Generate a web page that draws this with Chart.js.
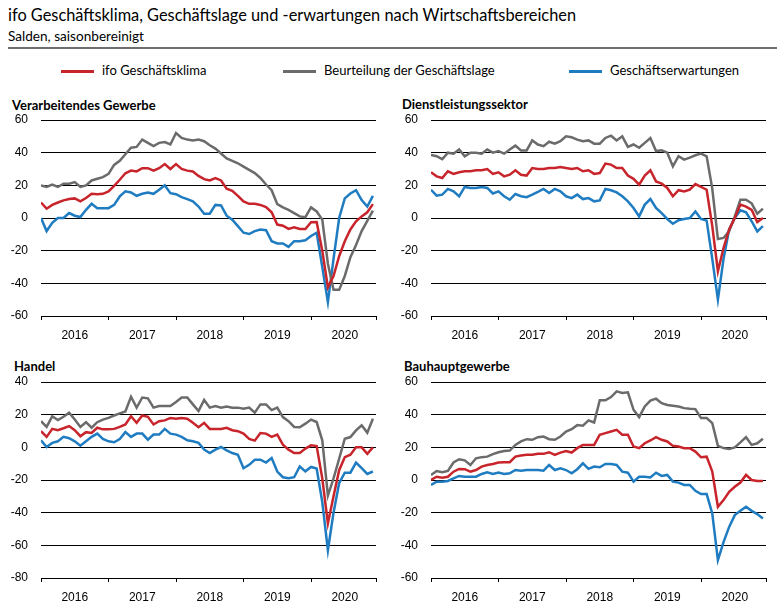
<!DOCTYPE html>
<html>
<head>
<meta charset="utf-8">
<script src="https://cdn.jsdelivr.net/npm/chart.js@4.4.1/dist/chart.umd.min.js"></script>
<style>
  body { margin: 0; width: 777px; height: 615px; background: #fff; position: relative; overflow: hidden; font-family: Lato, sans-serif; color: #000; }
  .abs { position: absolute; white-space: nowrap; }
  #title { left: 8px; top: 5px; font-size: 16.35px; }
  #subtitle { left: 8px; top: 28px; font-size: 13.6px; }
  #rule { left: 8px; top: 47px; width: 769px; height: 2px; background: #6e6e6e; }
  .leg { top: 62px; font-size: 13px; }
  .sw { height: 3px; top: 70px; }
  .ptitle { font-weight: bold; font-size: 13px; }
  canvas { position: absolute; }
</style>
</head>
<body>
<div id="title" class="abs">ifo Geschäftsklima, Geschäftslage und -erwartungen nach Wirtschaftsbereichen</div>
<div id="subtitle" class="abs">Salden, saisonbereinigt</div>
<div id="rule" class="abs"></div>

<div class="abs sw" style="left:61px;width:33px;background:#c8242b"></div>
<div class="abs leg" style="left:102px">ifo Geschäftsklima</div>
<div class="abs sw" style="left:283px;width:33px;background:#6b6b6b"></div>
<div class="abs leg" style="left:324px">Beurteilung der Geschäftslage</div>
<div class="abs sw" style="left:569px;width:33px;background:#1f7cc1"></div>
<div class="abs leg" style="left:610px">Geschäftserwartungen</div>

<div class="abs ptitle" style="left:12px;top:97px">Verarbeitendes Gewerbe</div>
<div class="abs ptitle" style="left:402px;top:96px">Dienstleistungssektor</div>
<div class="abs ptitle" style="left:14px;top:358px">Handel</div>
<div class="abs ptitle" style="left:404px;top:358px">Bauhauptgewerbe</div>

<canvas id="c1"></canvas>
<canvas id="c2"></canvas>
<canvas id="c3"></canvas>
<canvas id="c4"></canvas>

<script>
// monthly values Jan 2016 .. Dec 2020 (60 points each)
const yearLabels = ['2016', '2017', '2018', '2019', '2020'];
const yearBounds = [0, 12, 24, 36, 48, 59.55];
const yearCenters = [6, 18, 30, 42, 54];

const manuClimate = [9.5, 5.7, 8, 9.5, 10.8, 11.6, 12, 10.2, 12.2, 14.8, 14.6, 14.8, 16.3,
  19.7, 23.4, 27.4, 29, 28.5, 30.5, 30.5, 29, 30.5, 33, 30, 33,
  30, 29, 28.5, 25.8, 23.8, 23, 24.4, 23, 18, 16.7, 13.6, 10.2,
  8.7, 8.7, 8, 6.7, 3.5, -4, -4.7, -6.7, -5.7, -6.7, -6.7, -2.6,
  -2.5, -20, -42.5, -35.5, -23.4, -14.2, -7, -2, 1, 3.5, 8.5];
const manuSituation = [20, 19, 20.5, 19, 21, 21, 22, 19, 20, 23, 24, 25, 27,
  32.5, 35, 39, 43, 43.5, 48, 46, 44, 46, 46.5, 45, 52,
  49, 48, 47.5, 48, 47, 44.5, 42.5, 39.5, 36.5, 35, 33.5, 31.5,
  29.5, 27.5, 24.5, 20.5, 17, 8.5, 6.5, 5, 3, 1, 0.5, 6.5,
  4, -1, -28, -44, -44, -35.5, -24, -16.5, -8, -1.8, 4.5];
const manuExpect = [0, -8, -3, 0, 0, 3, 1.4, 0.6, 5, 8.7, 6, 6, 6,
  8, 13.2, 16.3, 15.6, 13.6, 14.8, 15.6, 14.8, 17.3, 20, 15.2, 14.6,
  12.8, 11.6, 10.2, 7, 2.6, 2.6, 8, 7.7, 1.4, -1, -5, -9,
  -9.8, -8, -7, -7.5, -14.2, -15.6, -15.6, -17.7, -14.2, -14.2, -13.6, -11,
  -9, -30, -51.5, -25, 0, 12, 15, 17, 11, 7, 13.5];

const servClimate = [28, 25.5, 24.5, 28.6, 27, 28, 28.6, 28.6, 29.2, 29.2, 30, 27, 28,
  25.5, 26.5, 29.2, 26.5, 26, 30.6, 30, 30, 30.6, 30.6, 31.2, 30.6,
  30, 30.6, 28.6, 29.2, 27, 27.5, 33.3, 32.7, 30.6, 30.6, 26, 24,
  20.4, 26, 29.2, 22.4, 21, 18.4, 13.3, 17, 16.3, 17.3, 20.8, 19,
  17.3, -5, -32.6, -18.4, -7, 0, 8.2, 7, 5, -2.5, 0];
const servSituation = [38.6, 37.8, 36, 40, 39.4, 42, 37.8, 40, 40, 39.4, 42, 40, 41,
  39.4, 42, 44.3, 41.4, 41.4, 47.5, 45, 44, 46.7, 45.5, 47, 50,
  49.4, 48, 47, 47.5, 45.5, 45.5, 49, 50.4, 47.5, 50, 43.5, 45,
  43, 46, 49, 41, 41.4, 40, 31.6, 37.8, 35.7, 37, 38.4, 39.4,
  37.8, 18, -12.9, -12.2, -8, 1, 11.2, 11.2, 9, 2.6, 5.7];
const servExpect = [17.3, 13.7, 14.3, 17.8, 16.3, 13.3, 19, 18.4, 18.4, 19, 18.4, 15, 16.3,
  13.3, 11.2, 14.7, 13.3, 12.7, 14.3, 16, 17.8, 15.3, 17.8, 16.3, 13.3,
  12.2, 14.3, 11.6, 12.2, 10.2, 10.8, 17.8, 17, 15.7, 13.3, 10.2, 6.1,
  1, 8.2, 11.6, 6.1, 3, -0.6, -3.5, -1.4, -0.6, 0, 4, -0.6,
  -1.6, -25, -50, -25, -7, 0, 4.7, 3.5, -2, -8.2, -5];

const tradeClimate = [9.9, 6.4, 11.3, 10.5, 11.7, 13, 10.5, 6.8, 9.3, 8.8, 12, 11, 11,
  11.3, 12.5, 14, 19, 15, 19.5, 18.7, 14, 16, 16.5, 18, 17.5,
  18, 17.5, 15, 12.3, 15, 11.3, 11.3, 11.3, 12, 10.5, 9.9, 8.4,
  5.1, 4.1, 8.8, 8.4, 6.4, 7.8, 1.6, -1.4, -3.5, -3.5, -0.8, 1.2,
  0.8, -19, -46.5, -30, -14, -6, -4.5, 0, 0, -4, 0];
const tradeSituation = [16, 12.5, 19, 16.7, 18.7, 21.2, 17, 12.5, 15.4, 12, 15.4, 17, 18,
  19.5, 20.8, 22, 31, 24.3, 30.5, 30, 24.3, 25.3, 25.3, 25.3, 27.8,
  30.5, 30.5, 26.3, 22.2, 29, 24.3, 25.3, 24.3, 25, 24.3, 24.3, 23.7,
  24.3, 21.2, 26.3, 26.3, 22.8, 24.3, 18.5, 16, 12.5, 12.3, 14.5, 17,
  15.5, 4.3, -29.5, -19, -7, 5.3, 6.3, 10.4, 13.5, 9, 17.5];
const tradeExpect = [4.3, 0.2, 2.7, 3.7, 6.4, 5.6, 3.7, 1, 3.7, 6.4, 8.4, 5.1, 3.7,
  3.1, 5.1, 9.3, 6.4, 8.4, 8.4, 4.7, 7.8, 7.8, 11.3, 8.4, 7.8,
  6.4, 4.3, 3.7, 2.7, -1.4, -3.5, -1.4, 0.2, -1.9, -3.5, -4.5, -12.8,
  -10.7, -7.6, -7.6, -9.3, -6.6, -14.8, -18.3, -18.9, -18.3, -11.7, -14.7, -12,
  -13, -33.5, -63, -40, -22, -15.5, -15.5, -9.3, -12.8, -16.3, -14.8];

const constClimate = [0, 2, 1.4, 2, 5.1, 6.8, 6.6, 5.1, 6.1, 8.2, 9.2, 9.8, 10.7,
  10.9, 10.9, 14.3, 15, 15.4, 15.4, 16, 16, 17, 15.4, 16.8, 17.8,
  16.8, 19.5, 21.5, 21.5, 21.5, 27.7, 28.7, 29.7, 30.7, 27.7, 27.7, 20.5,
  19.5, 22.5, 24.2, 26.2, 24.6, 23.6, 20.9, 20.5, 19.5, 19.5, 17.4, 13.9,
  14.3, 5.1, -16.4, -12.3, -7.2, -4.1, -1.6, 3.1, 0, -0.6, -0.6];
const constSituation = [3, 5.5, 4.7, 5.5, 10.7, 12.7, 12, 9.2, 13.3, 14, 14.3, 15.8, 17,
  17.8, 18, 21.5, 23.6, 25, 24.6, 26.2, 26.6, 25, 24.6, 26.6, 29.7,
  31.1, 33.6, 33.2, 36.5, 35.2, 48.8, 48.8, 50.8, 54.3, 53.3, 53.7, 43,
  38.5, 45, 48.6, 49.8, 47, 45.9, 45.5, 45, 44, 43.6, 43.4, 37.9,
  37.9, 34.8, 20.9, 19.5, 19, 20, 23, 26.2, 21.5, 22.5, 25.2];
const constExpect = [-3, -1, -1, -0.6, 1, 2.5, 2, 2, 2, 3.7, 4.7, 3.7, 4.5,
  3.7, 4.1, 6.1, 5.7, 6.1, 6.1, 6.1, 5.7, 9.2, 6.1, 7.2, 6.1,
  4.1, 6.6, 10.2, 6.8, 8.2, 7.8, 9.8, 9.8, 9.2, 5.1, 4.5, -1,
  2, 2, 1.6, 4.5, 2.5, 3.1, -1, -1.6, -3, -3, -6.6, -8.6,
  -8.6, -20.5, -49, -38, -28.7, -21.5, -18.9, -16.4, -18.9, -20.9, -23.6];

const RED = '#c8242b', GRAY = '#6b6b6b', BLUE = '#1f7cc1';

Chart.defaults.font.family = '"Liberation Sans", Arial, sans-serif';
Chart.defaults.font.size = 12;
Chart.defaults.color = '#000';

function series(arr) {
  return arr.map((v, i) => ({ x: i, y: v }));
}

function makePanel(id, left, top, yMin, yMax, klima, lage, erw) {
  const canvas = document.getElementById(id);
  // plot area is 335 x 196, axes get fixed room around it
  const w = 40 + 335 + 8, h = 10 + 196 + 32;
  canvas.style.left = (left - 40) + 'px';
  canvas.style.top = (top - 10) + 'px';
  canvas.width = w; canvas.height = h;
  canvas.style.width = w + 'px'; canvas.style.height = h + 'px';

  new Chart(canvas.getContext('2d'), {
    type: 'line',
    data: {
      datasets: [
        { label: 'ifo Geschäftsklima', data: series(klima), borderColor: RED },
        { label: 'Beurteilung der Geschäftslage', data: series(lage), borderColor: GRAY },
        { label: 'Geschäftserwartungen', data: series(erw), borderColor: BLUE }
      ].map(d => Object.assign(d, { borderWidth: 2.5, pointRadius: 0, fill: false, tension: 0 }))
    },
    options: {
      responsive: false,
      animation: false,
      layout: { padding: { left: 0, right: 8, top: 10, bottom: 0 } },
      plugins: { legend: { display: false }, tooltip: { enabled: false } },
      scales: {
        x: {
          type: 'linear', min: 0, max: 59.55,
          afterBuildTicks: s => { s.ticks = yearBounds.concat(yearCenters).sort((a, b) => a - b).map(v => ({ value: v })); },
          afterFit: s => { s.height = 32; s.paddingLeft = 0; s.paddingRight = 0; },
          border: { display: true, color: '#000', width: 1 },
          grid: {
            drawOnChartArea: false, drawTicks: true, tickLength: 4, lineWidth: 1,
            color: c => yearBounds.includes(c.tick.value) ? '#000' : 'rgba(0,0,0,0)'
          },
          ticks: {
            autoSkip: false, maxRotation: 0, padding: 8,
            callback: v => { const k = yearCenters.indexOf(v); return k >= 0 ? yearLabels[k] : ''; }
          }
        },
        y: {
          min: yMin, max: yMax,
          afterFit: s => { s.width = 40; s.paddingTop = 0; s.paddingBottom = 0; },
          border: { display: false },
          grid: { color: '#000', lineWidth: 1, drawTicks: false },
          ticks: { stepSize: 20, padding: 13 }
        }
      }
    }
  });
}

makePanel('c1', 41, 120, -60, 60, manuClimate, manuSituation, manuExpect);
makePanel('c2', 431, 120, -60, 60, servClimate, servSituation, servExpect);
makePanel('c3', 41, 382, -80, 40, tradeClimate, tradeSituation, tradeExpect);
makePanel('c4', 431, 382, -60, 60, constClimate, constSituation, constExpect);
</script>
</body>
</html>
